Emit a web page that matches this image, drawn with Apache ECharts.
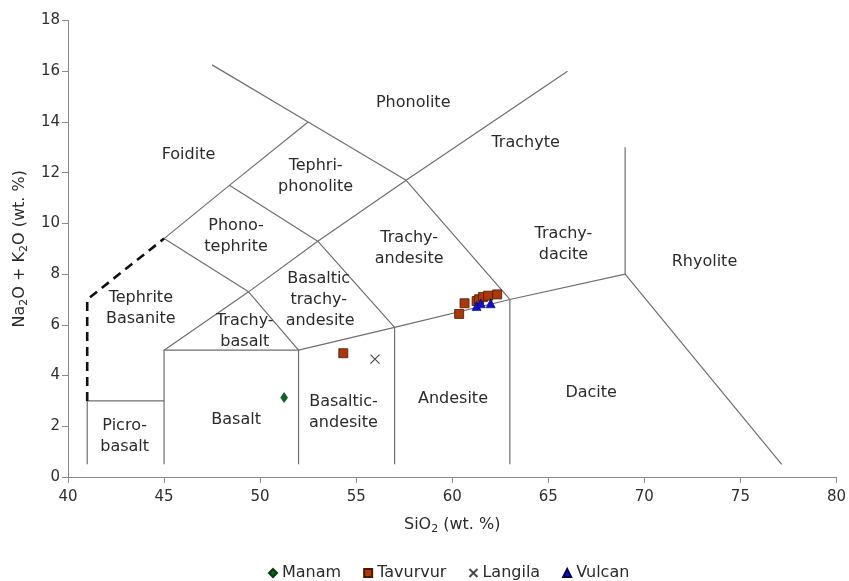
<!DOCTYPE html>
<html>
<head>
<meta charset="utf-8">
<script src="https://cdn.jsdelivr.net/npm/echarts@6/dist/echarts.min.js"></script>
<style>html,body{margin:0;padding:0;background:#fff}#c{width:849px;height:581px}</style>
</head>
<body>
<div id="c"></div>
<script>
// ---- data ----
const manam = [[51.25, 3.13]];
const tavurvur = [[54.33, 4.88], [60.36, 6.43], [60.64, 6.85], [61.27, 6.94], [61.40, 7.01], [61.60, 7.10], [61.87, 7.15], [62.34, 7.20]];
const langila = [[55.98, 4.65]];
const vulcan = [[61.27, 6.74], [61.49, 6.85], [62.00, 6.85]];

const seriesNames = ['Manam', 'Tavurvur', 'Langila', 'Vulcan'];

// TAS field boundaries (SiO2, Na2O+K2O)
const boundaries = [
  [[41, 0.5], [41, 3], [45, 3]],
  [[45, 0.5], [45, 5], [52, 5], [52, 0.5]],
  [[52, 5], [57, 5.9], [63, 7], [69, 8], [77.15, 0.5]],
  [[57, 0.5], [57, 5.9], [53, 9.3], [48.4, 11.5]],
  [[63, 0.5], [63, 7], [57.6, 11.7], [52.5, 14], [47.5, 16.25]],
  [[45, 5], [49.4, 7.3], [53, 9.3], [57.6, 11.7], [66, 16]],
  [[45, 9.4], [48.4, 11.5], [52.5, 14]],
  [[45, 9.4], [49.4, 7.3], [52, 5]],
  [[69, 8], [69, 13]]
];
const dashedBoundary = [[41, 3], [41, 7], [45, 9.4]];

const fieldNames = ['Foidite', 'Phonolite', 'Tephri-\nphonolite', 'Trachyte', 'Phono-\ntephrite',
  'Trachy-\nandesite', 'Trachy-\ndacite', 'Rhyolite', 'Tephrite\nBasanite', 'Basaltic\ntrachy-',
  'andesite', 'Trachy-\nbasalt', 'Picro-\nbasalt', 'Basalt', 'Basaltic-\nandesite', 'Andesite', 'Dacite'];
const fieldX = [46.27, 57.97, 52.89, 63.82, 48.75, 57.76, 65.79, 73.13, 43.79, 53.05, 53.12, 49.2, 42.95, 48.75, 54.34, 60.04, 67.23];
const fieldY = [12.72, 14.74, 11.87, 13.16, 9.49, 9.0, 9.16, 8.49, 6.65, 7.41, 6.16, 5.76, 1.62, 2.25, 2.56, 3.10, 3.32];

const xMin = 40, xMax = 80, xStep = 5;
const yMin = 0, yMax = 18, yStep = 2;

// ---- chart ----
const FONT = 'DejaVu Sans';
const chart = echarts.init(document.getElementById('c'), null, {renderer: 'canvas'});

const series = [];
boundaries.forEach(function (b) {
  series.push({
    type: 'line', data: b, showSymbol: false, symbol: 'none', silent: true, z: 1,
    lineStyle: {color: '#6f6f6f', width: 1.2}
  });
});
series.push({
  type: 'line', data: dashedBoundary, showSymbol: false, symbol: 'none', silent: true, z: 1,
  lineStyle: {color: '#111', width: 2.6, type: [9, 6]}
});
series.push({
  type: 'scatter', silent: true, symbolSize: 1, z: 2,
  itemStyle: {color: 'rgba(0,0,0,0)', opacity: 1},
  data: fieldNames.map(function (n, i) { return {name: n, value: [fieldX[i], fieldY[i]]}; }),
  label: {
    show: true, position: 'inside', formatter: function (p) { return p.name; },
    fontFamily: FONT, fontSize: 16, color: '#2b2b2b', opacity: 1, lineHeight: 21, align: 'center'
  }
});

series.push({
  name: 'Manam', type: 'scatter', data: manam, symbol: 'diamond', symbolSize: [7, 10], z: 5,
  itemStyle: {color: '#0b6620', borderColor: '#053812', borderWidth: 0.5, opacity: 1}
});
series.push({
  name: 'Tavurvur', type: 'scatter', data: tavurvur, symbol: 'rect', symbolSize: 9, z: 5,
  itemStyle: {color: '#a9390a', borderColor: '#4e1803', borderWidth: 0.8, opacity: 1}
});
series.push({
  name: 'Langila', type: 'scatter', data: langila, symbol: 'path://M0,0L10,10M10,0L0,10', symbolSize: 9, z: 5,
  itemStyle: {color: 'rgba(0,0,0,0)', borderColor: '#4a4a4a', borderWidth: 1.2, opacity: 1}
});
series.push({
  name: 'Vulcan', type: 'scatter', data: vulcan, symbol: 'triangle', symbolSize: 9, z: 6,
  itemStyle: {color: '#1010cc', borderColor: '#00004d', borderWidth: 0.6, opacity: 1}
});

const subRich = {
  n: {fontFamily: FONT, fontSize: 16, color: '#2b2b2b', lineHeight: 20},
  s: {fontFamily: FONT, fontSize: 11, color: '#2b2b2b', lineHeight: 9, verticalAlign: 'bottom'}
};

chart.setOption({
  animation: false,
  backgroundColor: '#fff',
  grid: {left: 68, right: 12, top: 20.5, bottom: 104, containLabel: false},
  xAxis: {
    type: 'value', min: xMin, max: xMax, interval: xStep,
    name: '{n|SiO}{s|2}{n| (wt. %)}', nameLocation: 'middle', nameGap: 38,
    nameTextStyle: {rich: subRich},
    axisLine: {show: true, lineStyle: {color: '#8a8a8a', width: 1}},
    axisTick: {show: true, length: 6, lineStyle: {color: '#8a8a8a'}},
    axisLabel: {fontFamily: FONT, fontSize: 15, color: '#2f2f2f', margin: 13},
    splitLine: {show: false}
  },
  yAxis: {
    type: 'value', min: yMin, max: yMax, interval: yStep,
    name: '{n|Na}{s|2}{n|O + K}{s|2}{n|O (wt. %)}', nameLocation: 'middle', nameGap: 37, nameRotate: 90,
    nameTextStyle: {rich: subRich},
    axisLine: {show: true, lineStyle: {color: '#8a8a8a', width: 1}},
    axisTick: {show: true, length: 6, lineStyle: {color: '#8a8a8a'}},
    axisLabel: {fontFamily: FONT, fontSize: 15, color: '#2f2f2f', margin: 8},
    splitLine: {show: false}
  },
  legend: {
    left: 263, top: 560, itemWidth: 8, itemHeight: 8, itemGap: 22,
    textStyle: {fontFamily: FONT, fontSize: 16, color: '#2b2b2b'},
    data: [
      {name: 'Manam', icon: 'diamond'},
      {name: 'Tavurvur', icon: 'rect'},
      {name: 'Langila', icon: 'path://M0,0L10,10M10,0L0,10'},
      {name: 'Vulcan', icon: 'triangle'}
    ]
  },
  series: series
});
</script>
</body>
</html>
